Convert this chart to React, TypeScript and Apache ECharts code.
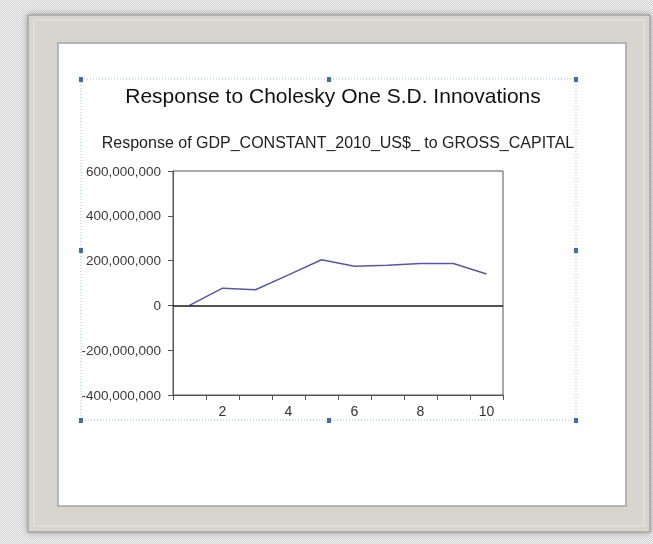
import React, { useEffect, useRef } from "react";
import * as echarts from "echarts";

const mainTitle = "Response to Cholesky One S.D. Innovations";
const subTitle = "Response of GDP_CONSTANT_2010_US$_ to GROSS_CAPITAL";
const periods = ["1", "2", "3", "4", "5", "6", "7", "8", "9", "10"];
const responseValues = [0, 77e6, 70e6, 136e6, 204e6, 175e6, 179e6, 187e6, 187e6, 140e6];
const yMin = -400e6;
const yMax = 600e6;
const yStep = 200e6;

const FONT = '"Liberation Sans", Arial, sans-serif';

export default function App() {
  const ref = useRef<HTMLDivElement>(null);
  useEffect(() => {
    if (!ref.current) return;
    const chart = echarts.init(ref.current, null, { renderer: "svg" });
    const handlePts = [
      [81, 79], [329, 79], [576, 79],
      [81, 250], [576, 250],
      [81, 420], [329, 420], [576, 420],
    ];
    chart.setOption({
      animation: false,
      backgroundColor: "transparent",
      graphic: [
        {
          type: "rect",
          z: -100,
          silent: true,
          shape: { x: 28, y: 15, width: 622, height: 517 },
          style: {
            fill: "#d8d5ce",
            stroke: "#8e8e8e",
            lineWidth: 1,
            shadowBlur: 6,
            shadowColor: "rgba(0,0,0,0.35)",
          },
        },
        {
          type: "rect",
          z: -99,
          silent: true,
          shape: { x: 34, y: 20, width: 610, height: 506 },
          style: { fill: "none", stroke: "#e8e6e0", lineWidth: 1 },
        },
        {
          type: "rect",
          z: -98,
          silent: true,
          shape: { x: 58, y: 43, width: 568, height: 463 },
          style: { fill: "#ffffff", stroke: "#a4a4a4", lineWidth: 1.5 },
        },
        {
          type: "rect",
          z: 50,
          silent: true,
          shape: { x: 81, y: 79, width: 495, height: 341 },
          style: { fill: "none", stroke: "#9fbfe4", lineWidth: 1, lineDash: [1, 2] },
        },
        ...handlePts.map(([hx, hy]) => ({
          type: "rect",
          z: 51,
          silent: true,
          shape: { x: hx - 2, y: hy - 2, width: 4, height: 5 },
          style: { fill: "#3b6db3" },
        })),
        {
          type: "text",
          z: 20,
          x: 333,
          y: 95,
          style: {
            text: mainTitle,
            font: `21px ${FONT}`,
            fill: "#111111",
            textAlign: "center",
            textVerticalAlign: "middle",
          },
        },
        {
          type: "text",
          z: 20,
          x: 338,
          y: 142,
          style: {
            text: subTitle,
            font: `16px ${FONT}`,
            fill: "#222222",
            textAlign: "center",
            textVerticalAlign: "middle",
          },
        },
      ],
      grid: {
        left: 173,
        top: 171,
        width: 330,
        height: 224,
        show: true,
        backgroundColor: "#ffffff",
        borderColor: "#555555",
        borderWidth: 1,
      },
      xAxis: {
        type: "category",
        data: periods,
        boundaryGap: true,
        axisLine: { show: true, onZero: false, lineStyle: { color: "#555555", width: 1 } },
        axisTick: {
          show: true,
          interval: 0,
          alignWithLabel: false,
          length: 5,
          lineStyle: { color: "#555555" },
        },
        axisLabel: {
          interval: (idx: number) => idx % 2 === 1,
          margin: 9,
          color: "#333333",
          fontFamily: FONT,
          fontSize: 14,
        },
        splitLine: { show: false },
      },
      yAxis: {
        type: "value",
        min: yMin,
        max: yMax,
        interval: yStep,
        axisLine: { show: true, lineStyle: { color: "#555555", width: 1 } },
        axisTick: { show: true, length: 5, lineStyle: { color: "#555555" } },
        axisLabel: {
          margin: 12,
          color: "#3a3a3a",
          fontFamily: FONT,
          fontSize: 13.5,
          formatter: (v: number) => v.toLocaleString("en-US"),
        },
        splitLine: { show: false },
      },
      series: [
        {
          type: "line",
          data: responseValues,
          symbol: "none",
          lineStyle: { color: "#5757a8", width: 1.5 },
          markLine: {
            silent: true,
            symbol: "none",
            label: { show: false },
            lineStyle: { color: "#1a1a1a", width: 1.5, type: "solid" },
            data: [{ yAxis: 0 }],
          },
        },
      ],
    });
    return () => chart.dispose();
  }, []);
  return (
    <div
      style={{
        position: "fixed",
        left: 0,
        top: 0,
        width: 653,
        height: 544,
        background:
          "repeating-conic-gradient(#d2d2d2 0% 25%, #f3f3f3 0% 50%) 0 0 / 2px 2px",
      }}
    >
      <div ref={ref} style={{ width: 653, height: 544 }} />
    </div>
  );
}
